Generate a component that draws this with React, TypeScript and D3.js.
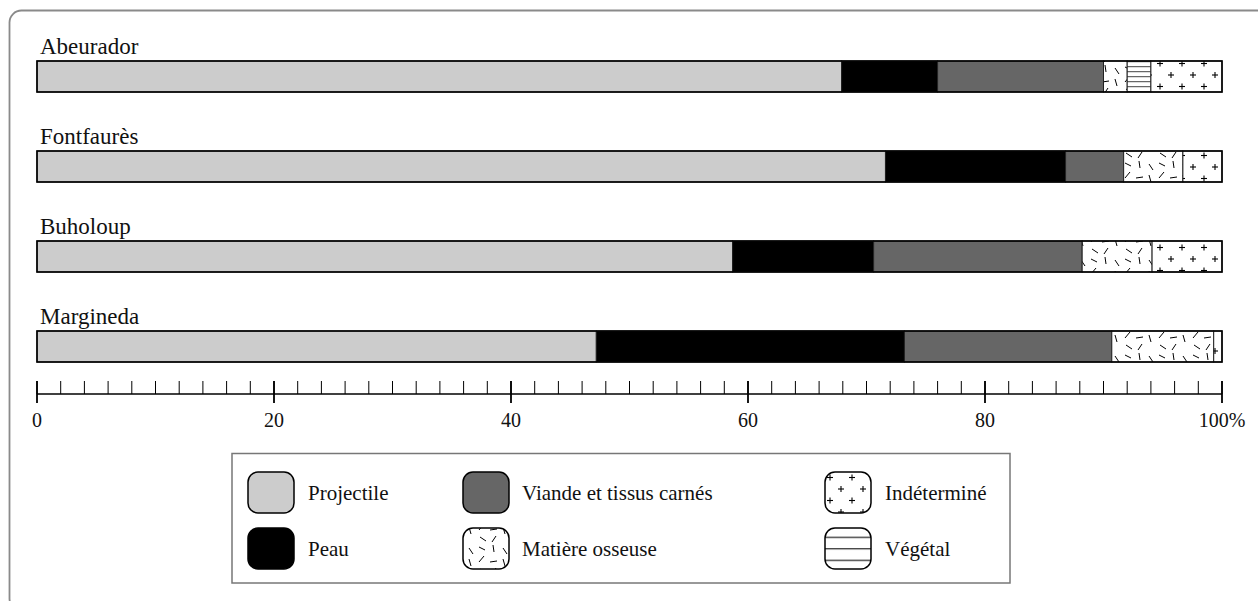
import React from "react";
import * as d3 from "d3";

const sites = ["Abeurador", "Fontfaurès", "Buholoup", "Margineda"];
const projectile = [67.9, 71.6, 58.7, 47.2];
const peau = [8.1, 15.2, 11.9, 26.0];
const viande = [14.0, 4.9, 17.6, 17.5];
const osseuse = [2.0, 5.0, 5.9, 8.6];
const vegetal = [2.0, 0, 0, 0];
const indetermine = [6.0, 3.3, 5.9, 0.7];

const seriesKeys = ["projectile", "peau", "viande", "osseuse", "vegetal", "indetermine"];
const seriesLabels = ["Projectile", "Peau", "Viande et tissus carnés", "Matière osseuse", "Végétal", "Indéterminé"];
const majorTicks = [0, 20, 40, 60, 80, 100];
const tickLabels = ["0", "20", "40", "60", "80", "100%"];
const minorTicks = d3.range(0, 101, 2);

// legend order (column-major in a 3x2 grid)
const legendOrder = ["projectile", "peau", "viande", "osseuse", "indetermine", "vegetal"];

const FONT = "'Liberation Serif', 'Times New Roman', serif";

const fills: Record<string, string> = {
  projectile: "#cccccc",
  peau: "#000000",
  viande: "#666666",
  osseuse: "url(#patOs)",
  vegetal: "url(#patVeg)",
  indetermine: "url(#patPlus)",
};
const legendFills: Record<string, string> = {
  ...fills,
  vegetal: "url(#patVegL)",
};

export default function App() {
  const rows = sites.map((s, i) => ({
    site: s,
    projectile: projectile[i],
    peau: peau[i],
    viande: viande[i],
    osseuse: osseuse[i],
    vegetal: vegetal[i],
    indetermine: indetermine[i],
  }));
  const stacked = d3.stack<any>().keys(seriesKeys)(rows);

  const x = d3.scaleLinear().domain([0, 100]).range([37, 1222]);
  const y = d3.scalePoint<string>().domain(sites).range([61, 331]);
  const barH = 31;
  const axisY = 394;

  const legCols = [
    { sx: 248, tx: 308 },
    { sx: 463, tx: 522 },
    { sx: 825, tx: 885 },
  ];
  const legRows = [
    { sy: 472, ty: 500 },
    { sy: 528, ty: 556 },
  ];

  const dashes = [
    [3, 3, 9, 6], [17, 1, 18, 8], [27, 4, 31, 10], [8, 12, 3, 18],
    [14, 18, 21, 17], [27, 15, 29, 22], [4, 25, 10, 29], [20, 24, 16, 30],
  ];

  return (
    <svg
      width={1258}
      height={601}
      style={{ position: "absolute", left: 0, top: 0, background: "#fff" }}
    >
      <defs>
        <pattern id="patOs" patternUnits="userSpaceOnUse" width={34} height={32}>
          <rect width={34} height={32} fill="#fff" />
          {dashes.map((d, i) => (
            <line key={i} x1={d[0]} y1={d[1]} x2={d[2]} y2={d[3]} stroke="#000" strokeWidth={1} />
          ))}
        </pattern>
        <pattern id="patPlus" patternUnits="userSpaceOnUse" width={22} height={23}>
          <rect width={22} height={23} fill="#fff" />
          {[[5, 6], [16, 17.5]].map((p, i) => (
            <g key={i} stroke="#000" strokeWidth={1.1}>
              <line x1={p[0] - 3} y1={p[1]} x2={p[0] + 3} y2={p[1]} />
              <line x1={p[0]} y1={p[1] - 3} x2={p[0]} y2={p[1] + 3} />
            </g>
          ))}
        </pattern>
        <pattern id="patVeg" patternUnits="userSpaceOnUse" width={10} height={5}>
          <rect width={10} height={5} fill="#fff" />
          <line x1={0} y1={1.7} x2={10} y2={1.7} stroke="#444" strokeWidth={1} />
        </pattern>
        <pattern id="patVegL" patternUnits="userSpaceOnUse" width={10} height={11.5}>
          <rect width={10} height={11.5} fill="#fff" />
          <line x1={0} y1={8.3} x2={10} y2={8.3} stroke="#222" strokeWidth={1.2} />
        </pattern>
      </defs>

      {/* outer frame */}
      <rect x={9.5} y={10.5} width={1320} height={600} rx={12} fill="none" stroke="#8a8a8a" strokeWidth={1.8} />

      {/* site labels */}
      {sites.map((s) => (
        <text key={s} x={40} y={(y(s) as number) - 7.5} fontFamily={FONT} fontSize={23} fill="#111">
          {s}
        </text>
      ))}

      {/* bars */}
      {stacked.map((layer) => (
        <g key={layer.key}>
          {layer.map((d: any, i: number) =>
            d[1] - d[0] > 0 ? (
              <rect
                key={i}
                x={x(d[0])}
                y={y(d.data.site) as number}
                width={x(d[1]) - x(d[0])}
                height={barH}
                fill={fills[layer.key]}
                stroke="#222"
                strokeWidth={1}
              />
            ) : null
          )}
        </g>
      ))}
      {sites.map((s) => (
        <rect
          key={s}
          x={x(0)}
          y={y(s) as number}
          width={x(100) - x(0)}
          height={barH}
          fill="none"
          stroke="#000"
          strokeWidth={1.6}
        />
      ))}

      {/* axis */}
      <line x1={x(0)} x2={x(100)} y1={axisY} y2={axisY} stroke="#000" strokeWidth={1.6} />
      {minorTicks.map((t) => (
        <line key={"m" + t} x1={x(t)} x2={x(t)} y1={axisY - 13} y2={axisY} stroke="#000" strokeWidth={1} />
      ))}
      {majorTicks.map((t) => (
        <line key={"M" + t} x1={x(t)} x2={x(t)} y1={axisY - 13} y2={axisY + 9} stroke="#000" strokeWidth={1.8} />
      ))}
      {majorTicks.map((t, i) => (
        <text key={"l" + t} x={x(t)} y={427} textAnchor="middle" fontFamily={FONT} fontSize={20} fill="#111">
          {tickLabels[i]}
        </text>
      ))}

      {/* legend */}
      <rect x={232} y={453.5} width={778} height={129.5} fill="#fff" stroke="#777" strokeWidth={1.5} />
      {legendOrder.map((k, i) => {
        const c = legCols[Math.floor(i / 2)];
        const r = legRows[i % 2];
        const idx = seriesKeys.indexOf(k);
        return (
          <g key={k}>
            <rect x={c.sx} y={r.sy} width={46} height={41} rx={10} fill={legendFills[k]} stroke="#000" strokeWidth={1.5} />
            <text x={c.tx} y={r.ty} fontFamily={FONT} fontSize={21} fill="#111">
              {seriesLabels[idx]}
            </text>
          </g>
        );
      })}
    </svg>
  );
}
